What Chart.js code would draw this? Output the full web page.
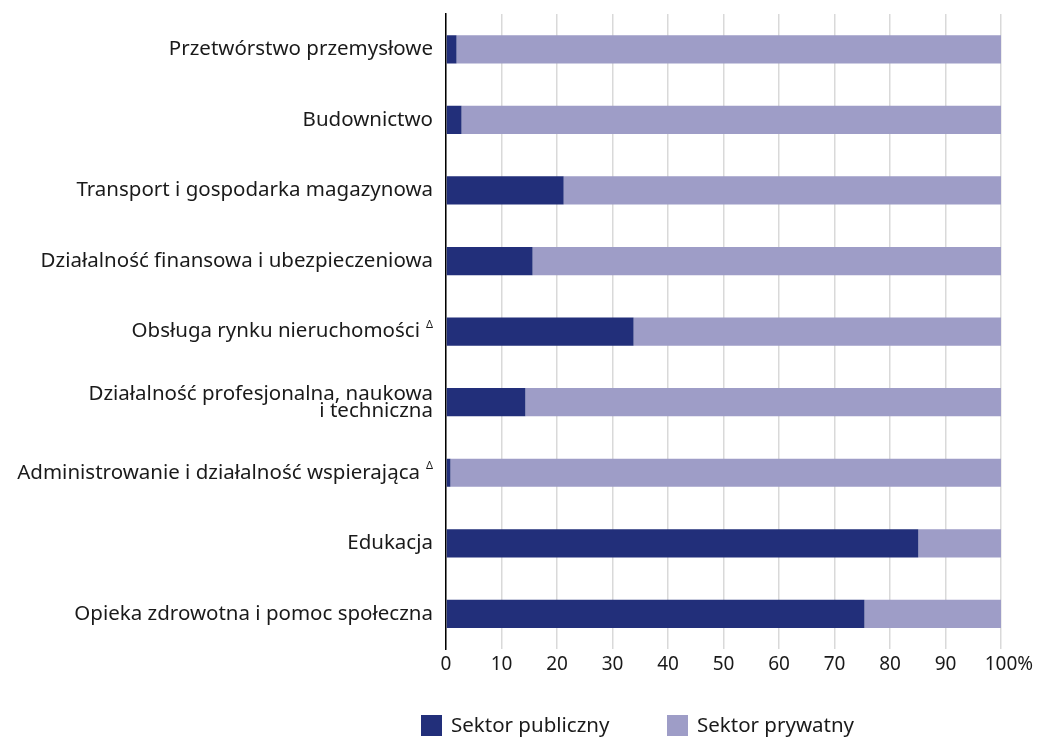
<!DOCTYPE html>
<html>
<head>
<meta charset="utf-8">
<script src="https://cdn.jsdelivr.net/npm/chart.js@4"></script>
<style>
  html, body { margin: 0; padding: 0; background: #ffffff; }
  #wrap { width: 1037px; height: 738px; }
</style>
</head>
<body>
<div id="wrap"><canvas id="wykres"></canvas></div>
<script>
// kategorie (wiersze etykiet)
var kategorie = [
    ['Przetwórstwo przemysłowe'],
    ['Budownictwo'],
    ['Transport i gospodarka magazynowa'],
    ['Działalność finansowa i ubezpieczeniowa'],
    ['Obsługa rynku nieruchomości'],
    ['Działalność profesjonalna, naukowa', 'i techniczna'],
    ['Administrowanie i działalność wspierająca'],
    ['Edukacja'],
    ['Opieka zdrowotna i pomoc społeczna']
];
var znakDelta = [false, false, false, false, true, false, true, false, false];

var sektorPubliczny = [1.9, 2.8, 21.2, 15.6, 33.8, 14.3, 0.8, 85.1, 75.4];
var sektorPrywatny = [98.1, 97.2, 78.8, 84.4, 66.2, 85.7, 99.2, 14.9, 24.6];

var ticksX = [0, 10, 20, 30, 40, 50, 60, 70, 80, 90, 100];

var CZCIONKA = '"Noto Sans", "Open Sans", sans-serif';
var KOLOR_TEKSTU = '#1a1a1a';
var ROZMIAR = 20.5;

// etykiety osi Y, znak % przy 100 i legenda rysowane recznie
var dodatki = {
    id: 'dodatki',
    afterDraw: function (chart) {
        var ctx = chart.ctx;
        var skala = chart.scales.y;
        var prawa = chart.chartArea.left - 13;
        ctx.save();
        ctx.fillStyle = KOLOR_TEKSTU;
        ctx.textAlign = 'right';
        ctx.textBaseline = 'middle';
        kategorie.forEach(function (linie, i) {
            var y = skala.getPixelForTick(i);
            var x = prawa;
            if (znakDelta[i]) {
                ctx.font = '11px ' + CZCIONKA;
                ctx.fillText('Δ', prawa, y - 7);
                x = prawa - ctx.measureText('Δ').width - 6;
            }
            ctx.font = ROZMIAR + 'px ' + CZCIONKA;
            var wys = 17;
            var start = y - (linie.length - 1) * wys / 2;
            linie.forEach(function (t, j) {
                ctx.fillText(t, x, start + j * wys);
            });
        });

        // znak % za "100"
        var sx = chart.scales.x;
        ctx.font = '19px ' + CZCIONKA;
        ctx.textAlign = 'left';
        var x100 = sx.getPixelForValue(100) + ctx.measureText('100').width / 2;
        ctx.fillText('%', x100, sx.top + 4 + 11);

        // legenda
        ctx.font = ROZMIAR + 'px ' + CZCIONKA;
        var pozycje = [421, 667];
        chart.data.datasets.forEach(function (ds, i) {
            ctx.fillStyle = ds.backgroundColor;
            ctx.fillRect(pozycje[i], 715, 21, 21);
            ctx.fillStyle = KOLOR_TEKSTU;
            ctx.fillText(ds.label, pozycje[i] + 30, 726);
        });
        ctx.restore();
    }
};

function inicjujWykres() {
    new Chart(document.getElementById('wykres').getContext('2d'), {
        type: 'bar',
        data: {
            labels: kategorie.map(function (k) { return k.join(' '); }),
            datasets: [{
                label: 'Sektor publiczny',
                data: sektorPubliczny,
                backgroundColor: '#222f7a'
            }, {
                label: 'Sektor prywatny',
                data: sektorPrywatny,
                backgroundColor: '#9e9dc7'
            }]
        },
        options: {
            indexAxis: 'y',
            responsive: true,
            maintainAspectRatio: false,
            animation: false,
            layout: {
                padding: { left: 446, right: 36, top: 14, bottom: 58 }
            },
            datasets: {
                bar: { categoryPercentage: 0.8, barPercentage: 0.5 }
            },
            scales: {
                x: {
                    stacked: true,
                    min: 0,
                    max: 100,
                    afterBuildTicks: function (axis) {
                        axis.ticks = ticksX.map(function (v) { return { value: v }; });
                    },
                    ticks: {
                        color: KOLOR_TEKSTU,
                        font: { family: CZCIONKA, size: 19 },
                        padding: 4,
                        maxRotation: 0,
                        autoSkip: false
                    },
                    grid: {
                        color: '#d9d9d9',
                        lineWidth: 1.5,
                        drawTicks: false
                    },
                    border: { display: false }
                },
                y: {
                    stacked: true,
                    ticks: { display: false },
                    grid: { display: false, drawTicks: false },
                    border: { display: true, color: '#000000', width: 1.5 }
                }
            },
            plugins: {
                legend: { display: false },
                tooltip: { enabled: false }
            }
        },
        plugins: [dodatki]
    });
}

window.onload = inicjujWykres;
</script>
</body>
</html>
